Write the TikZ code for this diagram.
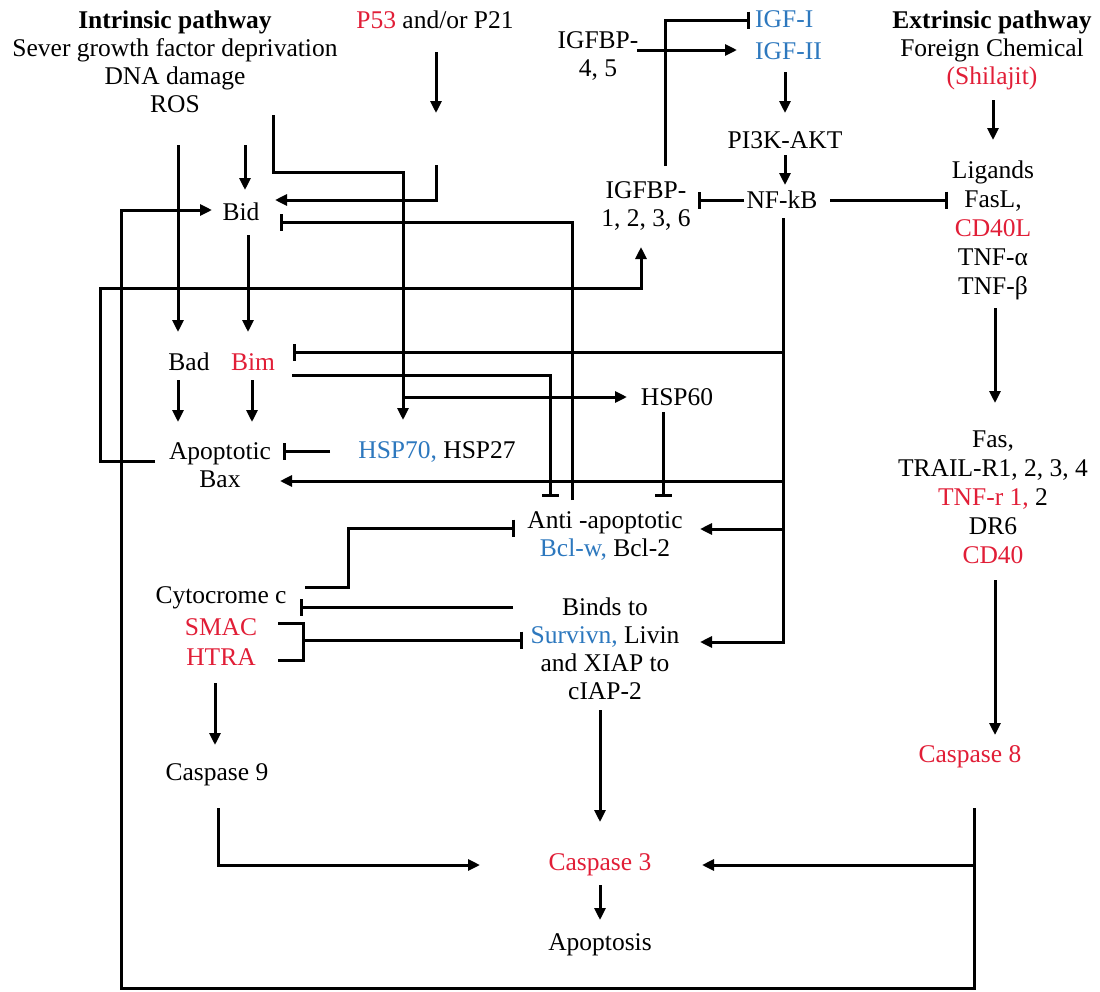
\documentclass[tikz,border=0pt]{standalone}
\usepackage{fontspec}
\setmainfont{Liberation Serif}
\usetikzlibrary{arrows.meta,calc}
\definecolor{rd}{RGB}{225,30,55}
\definecolor{bl}{RGB}{45,120,190}
\begin{document}
\begin{tikzpicture}[x=1pt,y=-1pt,
  ln/.style={line width=3pt},
  arr/.style={ln,-{Triangle[length=12pt,width=11pt]}},
  inh/.style={ln,-{Bar[width=17pt,line width=3pt]}},
  lbl/.style={inner sep=0pt,font=\fontsize{25.5}{28}\selectfont,align=center},
  lbw/.style={lbl,font=\fontsize{25.5}{29}\selectfont},
]
\path[use as bounding box] (0,0) rectangle (1100,991);
% nodes
\node[lbl] (intr) at (175,62) {\textbf{Intrinsic pathway}\\Sever growth factor deprivation\\DNA damage\\ROS};
\node[lbl] (p53) at (435,20) {\textcolor{rd}{P53} and/or P21};
\node[lbl] (igfbp45) at (598,56) {IGFBP-\\4, 5};
\node[lbl,anchor=west] (igf1) at (755,19) {\textcolor{bl}{IGF-I}};
\node[lbl,anchor=west] (igf2) at (755,51) {\textcolor{bl}{IGF-II}};
\node[lbl] (ext) at (992,50) {\textbf{Extrinsic pathway}\\Foreign Chemical\\\textcolor{rd}{(Shilajit)}};
\node[lbl] (pi3k) at (785,140) {PI3K-AKT};
\node[lbl] (nfkb) at (782,200) {NF-kB};
\node[lbl] (igfbp1) at (646,206) {IGFBP-\\1, 2, 3, 6};
\node[lbw] (lig) at (993,230) {Ligands\\FasL,\\\textcolor{rd}{CD40L}\\TNF-α\\TNF-β};
\node[lbl] (bid) at (241,212) {Bid};
\node[lbl] (bad) at (189,362) {Bad};
\node[lbl] (bim) at (253,362) {\textcolor{rd}{Bim}};
\node[lbl] (apop) at (220,465) {Apoptotic\\Bax};
\node[lbl] (hsp70) at (437,452) {\textcolor{bl}{HSP70,} HSP27};
\node[lbl] (hsp60) at (677,397) {HSP60};
\node[lbl] (anti) at (605,536) {Anti -apoptotic\\\textcolor{bl}{Bcl-w,} Bcl-2};
\node[lbl] (binds) at (605,649) {Binds to\\\textcolor{bl}{Survivn,} Livin\\and XIAP to\\cIAP-2};
\node[lbl] (cyto) at (221,598) {Cytocrome c};
\node[lbl] (smac) at (221,627) {\textcolor{rd}{SMAC}};
\node[lbl] (htra) at (221,657) {\textcolor{rd}{HTRA}};
\node[lbl] (casp9) at (217,775) {Caspase 9};
\node[lbl] (casp3) at (600,865) {\textcolor{rd}{Caspase 3}};
\node[lbl] (apoptosis) at (600,945) {Apoptosis};
\node[lbw] (rec) at (993,497) {Fas,\\TRAIL-R1, 2, 3, 4\\\textcolor{rd}{TNF-r 1,} 2\\DR6\\\textcolor{rd}{CD40}};
\node[lbl] (casp8) at (970,757) {\textcolor{rd}{Caspase 8}};
% free ends
\coordinate (p53tip) at (436,113);
\coordinate (p53b) at (436,165);
\coordinate (dnas) at (273,115);
\coordinate (bidin) at (245,145);
\coordinate (bads) at (178,145);
\coordinate (lp1) at (100,288);
\coordinate (lpb) at (121,988);
% IGF column
\draw[arr] ($(igfbp45.center)+(39,-6)$) -- ($(igf2.west)+(-18,-1)$);
\draw[inh] ($(igfbp1.center)+(19,-40)$) |- ($(igf1.west)+(-5,1)$);
\draw[arr] ($(igf2.west)+(30,21)$) -- ($(pi3k.center)+(0,-27)$);
\draw[arr] ($(pi3k.center)+(0,15)$) -- ($(nfkb.center)+(3,-15)$);
\draw[inh] ($(nfkb.center)+(-38,0)$) -- ($(igfbp1.center)+(52,-6)$);
\draw[inh] ($(nfkb.center)+(48,0)$) -- ($(lig.center)+(-45,-30)$);
\draw[arr] ($(nfkb.center)+(1,18)$) |- ($(binds.center)+(95,-7)$);
\draw[inh] ($(nfkb.center)+(1,152)$) -- ($(bim.center)+(40,-10)$);
\draw[arr] ($(nfkb.center)+(1,281)$) -- ($(apop.center)+(60,16)$);
\draw[arr] ($(nfkb.center)+(1,329)$) -- ($(anti.center)+(95,-7)$);
% top left
\draw[arr] ($(p53.center)+(1,32)$) -- (p53tip);
\draw[arr] (p53b) |- ($(bid.center)+(34,-12)$);
\draw[arr] (dnas) |- ($(hsp70.center)+(-34,-280)$) -- ($(hsp70.center)+(-34,-32)$);
\draw[arr] ($(hsp70.center)+(-34,-55)$) -- ($(hsp60.center)+(-50,0)$);
\draw[arr] (bidin) -- ($(bid.center)+(4,-22)$);
\draw[arr] (bads) -- ($(bad.center)+(-11,-30)$);
\draw[arr] ($(bid.center)+(7,23)$) -- ($(bim.center)+(-5,-30)$);
\draw[arr] ($(bad.center)+(-11,18)$) -- ($(apop.center)+(-42,-43)$);
\draw[arr] ($(bim.center)+(-1,18)$) -- ($(apop.center)+(32,-43)$);
\draw[inh] ($(hsp70.center)+(-107,-1)$) -- ($(apop.center)+(63,-14)$);
\draw[arr] ($(apop.center)+(-65,-4)$) -| (lp1) -| ($(igfbp1.center)+(-5,41)$);
\draw[inh] ($(bim.center)+(39,13)$) -| ($(anti.center)+(-55,-39)$);
\draw[inh] ($(anti.center)+(-33,-36)$) |- ($(bid.center)+(39,10)$);
\draw[inh] ($(hsp60.center)+(-14,15)$) -- ($(anti.center)+(58,-39)$);
% cytochrome area
\draw[inh] ($(cyto.center)+(84,-11)$) -| ($(cyto.center)+(127,-70)$) -- ($(anti.center)+(-90,-8)$);
\draw[inh] ($(binds.center)+(-92,-42)$) -- ($(cyto.center)+(79,9)$);
\draw[ln] ($(smac.center)+(57,-4)$) -| ($(htra.center)+(82,3)$) -- ($(htra.center)+(57,3)$);
\draw[inh] ($(smac.center)+(82,13)$) -- ($(binds.center)+(-82,-9)$);
\draw[arr] ($(htra.center)+(-6,26)$) -- ($(casp9.center)+(-2,-30)$);
\draw[arr] ($(casp9.center)+(1,33)$) |- ($(casp3.center)+(-120,0)$);
\draw[arr] ($(binds.center)+(-5,61)$) -- ($(casp3.center)+(0,-43)$);
\draw[arr] ($(casp3.center)+(0,20)$) -- ($(apoptosis.center)+(0,-25)$);
% extrinsic
\draw[arr] ($(ext.center)+(1,50)$) -- ($(lig.center)+(0,-90)$);
\draw[arr] ($(lig.center)+(2,78)$) -- ($(rec.center)+(2,-94)$);
\draw[arr] ($(rec.center)+(2,83)$) -- ($(casp8.center)+(25,-22)$);
\draw[arr] ($(casp8.center)+(4,51)$) |- ($(casp3.center)+(102,0)$);
\draw[arr] ($(casp8.center)+(4,51)$) |- (lpb) |- ($(bid.center)+(-29,-2)$);
\end{tikzpicture}
\end{document}
